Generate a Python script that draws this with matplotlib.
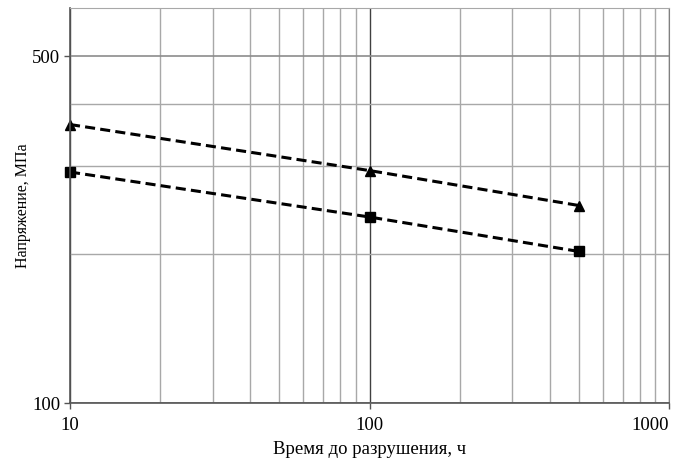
import numpy as np
import matplotlib.pyplot as plt
from matplotlib.ticker import FixedLocator, NullFormatter

# Data
hours = [10, 100, 500]
stress_tri = [364, 294, 250]
stress_sq = [292, 237, 202]

x_major = [10, 100, 1000]
y_major = [100, 500]
x_minor = [20, 30, 40, 50, 60, 70, 80, 90, 200, 300, 400, 500, 600, 700, 800, 900]
y_minor = [200, 300, 400]

plt.rcParams['font.family'] = ['Liberation Serif', 'DejaVu Serif']

fig = plt.figure(figsize=(6.78, 4.61), dpi=100)
ax = fig.add_axes([70 / 678, 1 - 403 / 461, 599 / 678, 395 / 461])

ax.set_xscale('log')
ax.set_yscale('log')
ax.set_xlim(10, 1000)
ax.set_ylim(100, 625)

ax.xaxis.set_major_locator(FixedLocator(x_major))
ax.xaxis.set_minor_locator(FixedLocator(x_minor))
ax.yaxis.set_major_locator(FixedLocator(y_major))
ax.yaxis.set_minor_locator(FixedLocator(y_minor))
ax.set_xticklabels([str(v) for v in x_major])
ax.set_yticklabels([str(v) for v in y_major])
ax.xaxis.set_minor_formatter(NullFormatter())
ax.yaxis.set_minor_formatter(NullFormatter())
ax.get_xticklabels()[-1].set_horizontalalignment('right')

ax.grid(True, which='major', axis='x', color='#404040', linewidth=1)
ax.grid(True, which='major', axis='y', color='#8c8c8c', linewidth=1.2)
ax.grid(True, which='minor', color='#a8a8a8', linewidth=1)
ax.set_axisbelow(True)

ax.tick_params(which='major', direction='out', length=4, width=1, color='#555555',
               labelsize=13.5, pad=3)
ax.tick_params(axis='x', which='major', pad=6)
ax.tick_params(which='minor', length=0)

for side in ['left', 'bottom']:
    ax.spines[side].set_color('#555555')
    ax.spines[side].set_linewidth(1.2)
ax.spines['right'].set_color('#808080')
ax.spines['top'].set_color('#a8a8a8')

ax.plot(hours, stress_tri, linestyle=(0, (3.3, 1.7)), color='black', linewidth=2.2,
        marker='^', markersize=7.5, clip_on=False)
ax.plot(hours, stress_sq, linestyle=(0, (3.3, 1.7)), color='black', linewidth=2.2,
        marker='s', markersize=6.5, clip_on=False)

ax.set_xlabel('Время до разрушения, ч', fontsize=13.5, labelpad=5)
ax.set_ylabel('Напряжение, МПа', fontsize=11.5, labelpad=1)

fig.savefig('out.png', dpi=100)
